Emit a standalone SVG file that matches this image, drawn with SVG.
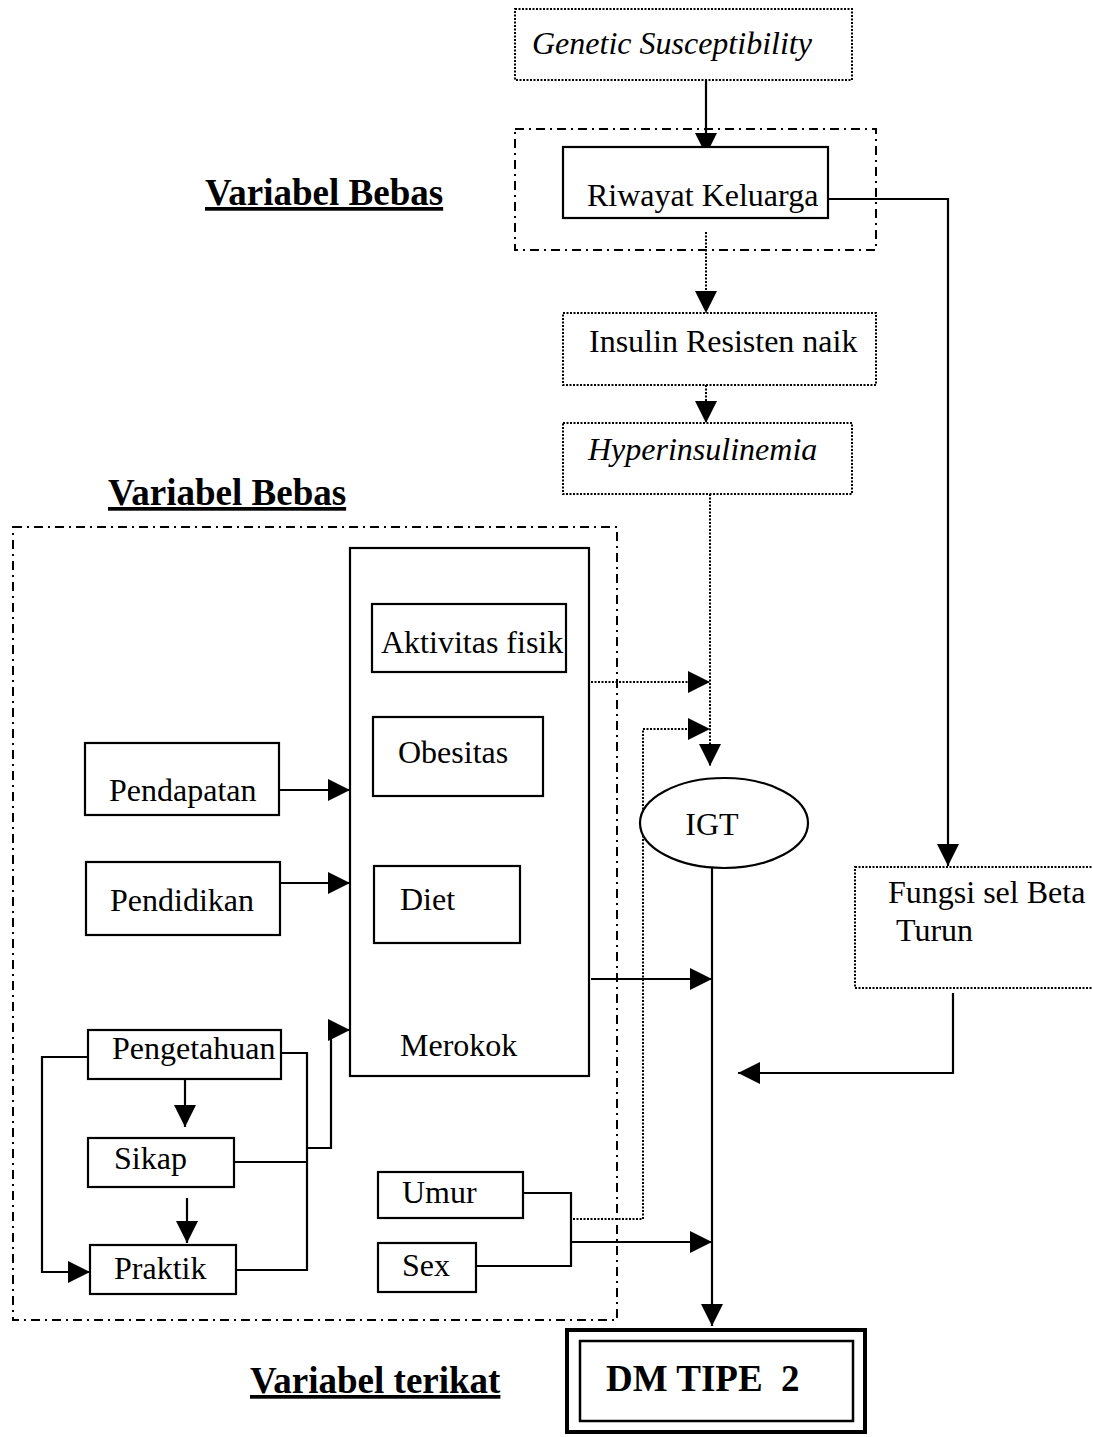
<svg xmlns="http://www.w3.org/2000/svg" width="1093" height="1437" viewBox="0 0 1093 1437">
<style>
text{font-family:"Liberation Serif","Times New Roman",serif;fill:#000}
.t{font-size:32px}
.it{font-size:32px;font-style:italic}
.h{font-size:37px;font-weight:bold;text-decoration:underline}
.solid{fill:#fff;stroke:#000;stroke-width:2.2}
.dot{fill:#fff;stroke:#000;stroke-width:2;stroke-dasharray:2 1.5}
.dd{fill:none;stroke:#000;stroke-width:2;stroke-dasharray:9 5 2 5}
.c{fill:none;stroke:#000;stroke-width:2.2}
.cd{fill:none;stroke:#000;stroke-width:2;stroke-dasharray:2 1.5}
</style>
<defs>
<marker id="ah" viewBox="0 0 22 22" markerWidth="22" markerHeight="22" refX="22" refY="11" orient="auto" markerUnits="userSpaceOnUse"><path d="M0,0 L22,11 L0,22 z" fill="#000"/></marker>
</defs>
<rect width="1093" height="1437" fill="#fff"/>

<g id="labels">
<text class="h" x="205" y="205">Variabel Bebas</text>
<text class="h" x="108" y="505">Variabel Bebas</text>
<text class="h" x="250" y="1393">Variabel terikat</text>
</g>

<g id="groups">
<rect class="dd" x="515" y="129" width="361" height="121"/>
<rect class="dd" x="13" y="527" width="604" height="793"/>
</g>

<g id="connectors">
<line class="c" x1="706" y1="80" x2="706" y2="155" marker-end="url(#ah)"/>
<polyline class="c" points="828,199 948,199 948,866" marker-end="url(#ah)"/>
<line class="cd" x1="706" y1="232" x2="706" y2="313" marker-end="url(#ah)"/>
<line class="cd" x1="706" y1="385" x2="706" y2="423" marker-end="url(#ah)"/>
<line class="cd" x1="710" y1="494" x2="710" y2="766" marker-end="url(#ah)"/>
<line class="cd" x1="591" y1="682" x2="710" y2="682" marker-end="url(#ah)"/>
<polyline class="cd" points="573,1219 643,1219 643,729 710,729" marker-end="url(#ah)"/>
<line class="c" x1="447" y1="672" x2="447" y2="716" marker-end="url(#ah)"/>
<line class="c" x1="447" y1="866" x2="447" y2="797" marker-end="url(#ah)"/>
<line class="c" x1="279" y1="790" x2="350" y2="790" marker-end="url(#ah)"/>
<line class="c" x1="280" y1="883" x2="350" y2="883" marker-end="url(#ah)"/>
<line class="c" x1="185" y1="1079" x2="185" y2="1127" marker-end="url(#ah)"/>
<line class="c" x1="187" y1="1198" x2="187" y2="1243" marker-end="url(#ah)"/>
<polyline class="c" points="88,1057 42,1057 42,1272 90,1272" marker-end="url(#ah)"/>
<polyline class="c" points="281,1053 307,1053 307,1270 236,1270"/>
<line class="c" x1="234" y1="1162" x2="307" y2="1162"/>
<polyline class="c" points="307,1148 331,1148 331,1030 350,1030" marker-end="url(#ah)"/>
<polyline class="c" points="523,1193 571,1193 571,1266 476,1266"/>
<line class="c" x1="571" y1="1242" x2="712" y2="1242" marker-end="url(#ah)"/>
<line class="c" x1="591" y1="979" x2="712" y2="979" marker-end="url(#ah)"/>
<line class="c" x1="712" y1="868" x2="712" y2="1326" marker-end="url(#ah)"/>
<polyline class="c" points="953,993 953,1073 738,1073" marker-end="url(#ah)"/>
</g>

<g id="genetic">
<rect class="dot" x="515" y="9" width="337" height="71"/>
<text class="it" x="532" y="54">Genetic Susceptibility</text>
</g>
<g id="riwayat">
<rect class="solid" x="563" y="147" width="265" height="71"/>
<text class="t" x="587" y="206">Riwayat Keluarga</text>
</g>
<g id="insulin">
<rect class="dot" x="563" y="313" width="313" height="72"/>
<text class="t" x="589" y="352">Insulin Resisten naik</text>
</g>
<g id="hyper">
<rect class="dot" x="563" y="423" width="289" height="71"/>
<text class="it" x="588" y="460">Hyperinsulinemia</text>
</g>
<g id="merokok">
<rect class="solid" x="350" y="548" width="239" height="528"/>
<text class="t" x="400" y="1056">Merokok</text>
</g>
<g id="aktivitas">
<rect class="solid" x="372" y="604" width="194" height="68"/>
<text class="t" x="381" y="653">Aktivitas fisik</text>
</g>
<g id="obesitas">
<rect class="solid" x="373" y="717" width="170" height="79"/>
<text class="t" x="398" y="763">Obesitas</text>
</g>
<g id="diet">
<rect class="solid" x="374" y="866" width="146" height="77"/>
<text class="t" x="400" y="910">Diet</text>
</g>
<g id="pendapatan">
<rect class="solid" x="85" y="743" width="194" height="72"/>
<text class="t" x="109" y="801">Pendapatan</text>
</g>
<g id="pendidikan">
<rect class="solid" x="86" y="862" width="194" height="73"/>
<text class="t" x="110" y="911">Pendidikan</text>
</g>
<g id="pengetahuan">
<rect class="solid" x="88" y="1030" width="193" height="49"/>
<text class="t" x="112" y="1059">Pengetahuan</text>
</g>
<g id="sikap">
<rect class="solid" x="88" y="1138" width="146" height="49"/>
<text class="t" x="114" y="1169">Sikap</text>
</g>
<g id="praktik">
<rect class="solid" x="90" y="1245" width="146" height="49"/>
<text class="t" x="114" y="1279">Praktik</text>
</g>
<g id="umur">
<rect class="solid" x="378" y="1172" width="145" height="46"/>
<text class="t" x="402" y="1203">Umur</text>
</g>
<g id="sex">
<rect class="solid" x="378" y="1243" width="98" height="49"/>
<text class="t" x="402" y="1276">Sex</text>
</g>
<g id="igt">
<ellipse class="solid" cx="724" cy="823" rx="84" ry="45"/>
<text class="t" x="712" y="835" text-anchor="middle">IGT</text>
</g>
<g id="fungsi">
<rect class="dot" x="855" y="867" width="245" height="121"/>
<text class="t" x="888" y="903">Fungsi sel Beta</text>
<text class="t" x="896" y="941">Turun</text>
</g>
<g id="dm">
<rect fill="#fff" stroke="#000" stroke-width="4" x="567" y="1330" width="298" height="102"/>
<rect fill="none" stroke="#000" stroke-width="2.5" x="580" y="1341" width="273" height="80"/>
<text x="606" y="1391" style="font-size:37px;font-weight:bold" xml:space="preserve">DM TIPE  2</text>
</g>
</svg>
